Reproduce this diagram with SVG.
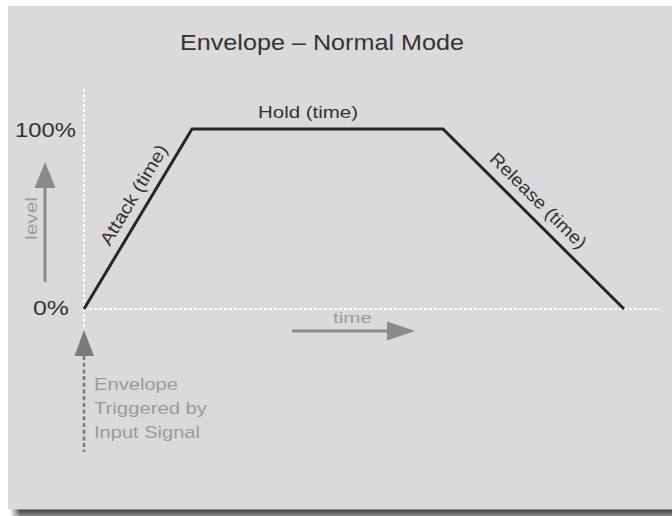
<svg xmlns="http://www.w3.org/2000/svg" width="672" height="516" viewBox="0 0 672 516">
  <defs>
    <linearGradient id="shadow" x1="0" y1="0" x2="0" y2="1">
      <stop offset="0" stop-color="#3c3c3c"/>
      <stop offset="1" stop-color="#8a8a8a"/>
    </linearGradient>
    <linearGradient id="shadowL" x1="0" y1="0" x2="1" y2="0">
      <stop offset="0" stop-color="#ffffff" stop-opacity="1"/>
      <stop offset="1" stop-color="#ffffff" stop-opacity="0"/>
    </linearGradient>
  </defs>
  <style>
    text { font-family: "Liberation Sans", Arial, sans-serif; }
    .dark { fill: #333333; }
    .grey { fill: #9a9a9a; }
    .dot { stroke: #ffffff; stroke-width: 2; stroke-dasharray: 3 2; fill: none; }
    .garrow { stroke: #8a8a8a; stroke-width: 3; fill: none; }
    .ghead { fill: #8a8a8a; }
  </style>

  <rect x="0" y="0" width="672" height="516" fill="#ffffff"/>
  <g id="panel">
    <rect x="10" y="509" width="662" height="7" fill="url(#shadow)"/>
    <rect x="10" y="509" width="10" height="7" fill="url(#shadowL)"/>
    <rect x="8" y="6" width="664" height="503.5" fill="#dadada"/>
  </g>

  <g id="title">
    <text class="dark" x="180" y="50" font-size="22" textLength="284" lengthAdjust="spacingAndGlyphs">Envelope – Normal Mode</text>
  </g>

  <g id="axes">
    <line class="dot" x1="84" y1="89" x2="84" y2="330"/>
    <line class="dot" x1="84" y1="309" x2="660" y2="309"/>
    <text class="dark" x="15" y="137" font-size="21" textLength="61" lengthAdjust="spacingAndGlyphs">100%</text>
    <text class="dark" x="33" y="315" font-size="21" textLength="36" lengthAdjust="spacingAndGlyphs">0%</text>
  </g>

  <g id="envelope">
    <polyline points="84,309 192,129 443,129 624,309" fill="none" stroke="#262626" stroke-width="3" stroke-linejoin="miter"/>
    <text class="dark" x="258" y="118" font-size="17" textLength="100" lengthAdjust="spacingAndGlyphs">Hold (time)</text>
    <text class="dark" transform="translate(139,198) rotate(-59)" text-anchor="middle" font-size="18" textLength="114" lengthAdjust="spacingAndGlyphs">Attack (time)</text>
    <text class="dark" transform="translate(534,205) rotate(44.8)" text-anchor="middle" font-size="18" textLength="128" lengthAdjust="spacingAndGlyphs">Release (time)</text>
  </g>

  <g id="connectors">
    <g id="level-arrow">
      <line class="garrow" x1="45" y1="282" x2="45" y2="185"/>
      <polygon class="ghead" points="45,162 55.5,188 34.5,188"/>
      <text class="grey" transform="translate(37,218.5) rotate(-90)" text-anchor="middle" font-size="17" textLength="43" lengthAdjust="spacingAndGlyphs">level</text>
    </g>
    <g id="time-arrow">
      <line class="garrow" x1="292" y1="331" x2="390" y2="331"/>
      <polygon class="ghead" points="415,331 387,321.5 387,340.5"/>
      <text class="grey" x="333" y="323" font-size="15" textLength="39" lengthAdjust="spacingAndGlyphs">time</text>
    </g>
    <g id="trigger-arrow">
      <line x1="84" y1="356" x2="84" y2="452" stroke="#7a7a7a" stroke-width="2.5" stroke-dasharray="4 2.7"/>
      <polygon points="84,330 94,356 74.5,356" fill="#7a7a7a"/>
    </g>
  </g>

  <g id="trigger-label">
    <text class="grey" font-size="17">
      <tspan x="94" y="390" textLength="84" lengthAdjust="spacingAndGlyphs">Envelope</tspan>
      <tspan x="94" y="414" textLength="113" lengthAdjust="spacingAndGlyphs">Triggered by</tspan>
      <tspan x="94" y="438" textLength="106" lengthAdjust="spacingAndGlyphs">Input Signal</tspan>
    </text>
  </g>
</svg>
